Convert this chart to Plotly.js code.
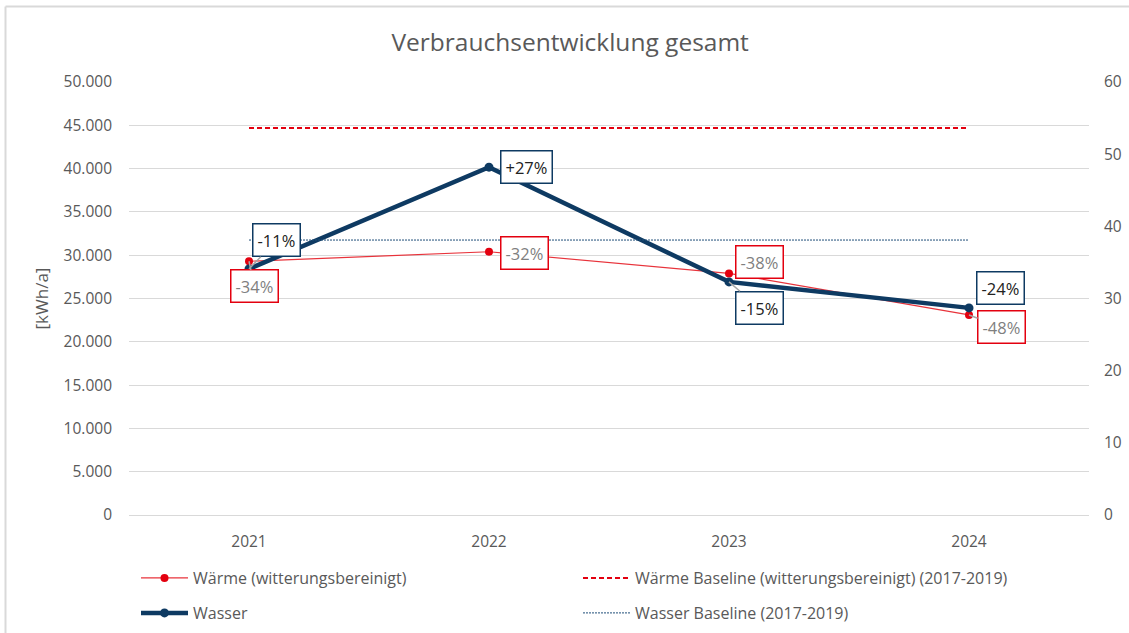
<!DOCTYPE html>
<html>
<head>
<meta charset="utf-8">
<script src="https://cdn.plot.ly/plotly-3.0.1.min.js"></script>
<style>
html,body{margin:0;padding:0;background:#fff;}
#chart{width:1129px;height:633px;}
</style>
</head>
<body>
<div id="chart"></div>
<script>
const years = ['2021', '2022', '2023', '2024'];
const waerme = [29300, 30400, 27900, 23100];
const waermeBaseline = [44700, 44700, 44700, 44700];
const wasser = [34.1, 48.2, 32.3, 28.7];
const wasserBaseline = [38.1, 38.1, 38.1, 38.1];
const waermeLabels = ['-34%', '-32%', '-38%', '-48%'];
const wasserLabels = ['-11%', '+27%', '-15%', '-24%'];

const font = '"Open Sans", Lato, sans-serif';
const gray = '#595959';
const red = '#e3000f';
const navy = '#0e3a62';

const traces = [
  {x: years, y: waerme, name: 'Wärme (witterungsbereinigt)', type: 'scatter', mode: 'lines+markers',
   line: {color: '#e8333b', width: 1.2}, marker: {color: red, size: 8}, yaxis: 'y', legend: 'legend'},
  {x: years, y: waermeBaseline, name: 'Wärme Baseline (witterungsbereinigt) (2017-2019)', type: 'scatter', mode: 'lines',
   line: {color: red, width: 2, dash: '5px,3px'}, yaxis: 'y', legend: 'legend'},
  {x: years, y: wasser, name: 'Wasser', type: 'scatter', mode: 'lines+markers',
   line: {color: navy, width: 4.5}, marker: {color: navy, size: 9}, yaxis: 'y2', legend: 'legend2'},
  {x: years, y: wasserBaseline, name: 'Wasser Baseline (2017-2019)', type: 'scatter', mode: 'lines',
   line: {color: '#1f4e79', width: 1, dash: '2px,1px'}, yaxis: 'y2', legend: 'legend2'}
];

// label offsets in pixels (ax, ay) and leader visibility
const waermeOff = [[5.5, 25, true], [35.5, 1, false], [30.5, -11, false], [32.5, 12.5, true]];
const wasserOff = [[27.5, -28.5, true], [37, 0, false], [30, 25.6, true], [31, -20, false]];

const annotations = [];
years.forEach((yr, i) => {
  annotations.push({
    x: i, y: waerme[i], xref: 'x', yref: 'y', text: waermeLabels[i],
    showarrow: true, arrowhead: 0, arrowwidth: 1.5,
    arrowcolor: waermeOff[i][2] ? '#a6a6a6' : 'rgba(255,255,255,0)',
    ax: waermeOff[i][0], ay: waermeOff[i][1],
    bordercolor: red, borderwidth: 1.5, borderpad: 4, bgcolor: '#ffffff',
    font: {family: font, size: 16.5, color: '#7f7f7f'}
  });
  annotations.push({
    x: i, y: wasser[i], xref: 'x', yref: 'y2', text: wasserLabels[i],
    showarrow: true, arrowhead: 0, arrowwidth: 1.5,
    arrowcolor: wasserOff[i][2] ? '#a6a6a6' : 'rgba(255,255,255,0)',
    ax: wasserOff[i][0], ay: wasserOff[i][1],
    bordercolor: navy, borderwidth: 1.5, borderpad: 4, bgcolor: '#ffffff',
    font: {family: font, size: 16.5, color: '#222222'}
  });
});

const bx = (5.5 - 129) / 960, by = (515 - 6.5) / 433;
const legendBase = {
  orientation: 'h', x: (136 - 129) / 960, xanchor: 'left', yanchor: 'middle',
  entrywidth: 380, entrywidthmode: 'pixels', traceorder: 'normal', itemwidth: 47,
  bgcolor: 'rgba(0,0,0,0)', font: {family: font, size: 16, color: gray}
};

const layout = {
  width: 1129, height: 633,
  margin: {l: 129, r: 40, t: 82, b: 118, autoexpand: false},
  paper_bgcolor: '#fff', plot_bgcolor: '#fff',
  separators: ',.',
  font: {family: font, size: 16, color: gray},
  title: {text: 'Verbrauchsentwicklung gesamt', x: 0.505, xanchor: 'center', y: 0.933, yanchor: 'middle',
          font: {family: font, size: 24.5, color: gray}},
  xaxis: {type: 'category', range: [-0.5, 3.5], showgrid: false, zeroline: false,
          showline: true, linecolor: '#d9d9d9', linewidth: 1, ticks: '', ticklabelstandoff: 12,
          tickfont: {family: font, size: 15.5, color: gray}},
  yaxis: {range: [0, 50000], dtick: 5000, tickformat: ',d', gridcolor: '#d9d9d9', gridwidth: 1,
          zeroline: false, showline: false, ticks: '', ticklabelstandoff: 16,
          tickfont: {family: font, size: 15.5, color: gray},
          title: {text: '[kWh/a]', standoff: 10, font: {family: font, size: 17, color: gray}}},
  yaxis2: {range: [0, 60], dtick: 10, overlaying: 'y', side: 'right', showgrid: false, zeroline: false,
           showline: false, ticks: '', ticklabelstandoff: 14,
           tickfont: {family: font, size: 15.5, color: gray}},
  showlegend: true,
  legend: Object.assign({}, legendBase, {y: (515 - 578) / 433}),
  legend2: Object.assign({}, legendBase, {y: (515 - 613) / 433}),
  annotations: annotations,
  shapes: [
    {type: 'line', xref: 'paper', yref: 'paper', x0: bx, x1: 1.1, y0: by, y1: by,
     line: {color: '#d9d9d9', width: 2}},
    {type: 'line', xref: 'paper', yref: 'paper', x0: bx, x1: bx, y0: by, y1: -0.4,
     line: {color: '#d9d9d9', width: 2}}
  ]
};

Plotly.newPlot('chart', traces, layout, {displayModeBar: false});
</script>
</body>
</html>
